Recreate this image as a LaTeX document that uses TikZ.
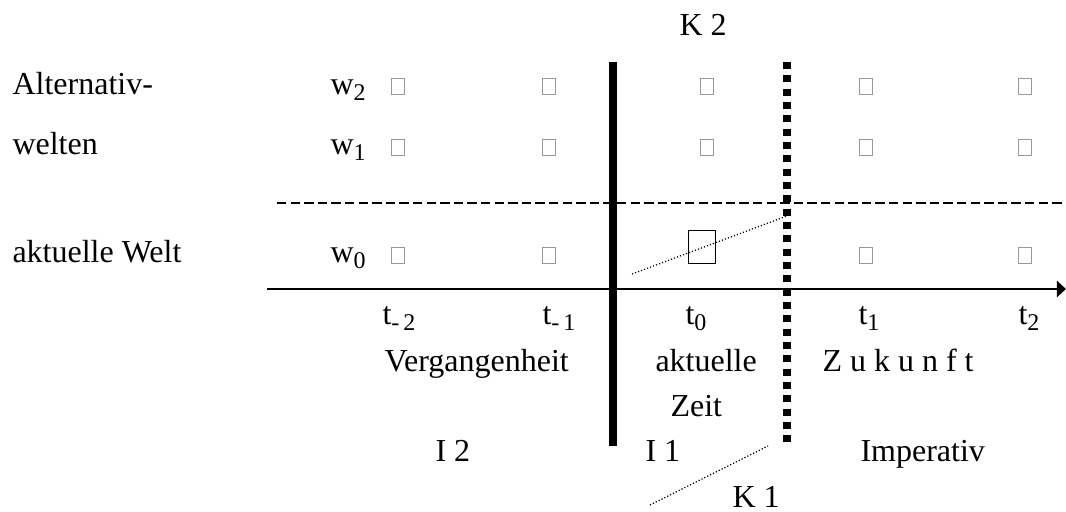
\documentclass[tikz,border=0pt]{standalone}
\usepackage{fontspec}
\setmainfont{Liberation Serif}
\usetikzlibrary{arrows.meta}
\newcommand{\mysub}[1]{\raisebox{-0.35ex}{\fontsize{9}{9}\selectfont #1}}
\begin{document}
\begin{tikzpicture}[x=0.375pt,y=-0.375pt,
  txt/.style={inner sep=0pt,anchor=base west,font=\fontsize{12}{14}\selectfont},
  cell/.style={draw=black!40,line width=0.35pt,inner sep=0pt,minimum width=4.9pt,minimum height=6pt},
  bigcell/.style={draw=black,line width=0.7pt,inner sep=0pt,minimum width=10.1pt,minimum height=12.4pt},
  thinline/.style={line width=0.45pt,dash pattern=on 0.45pt off 0.75pt},
  bar/.style={line width=2.7pt},
  dotbar/.style={line width=2.7pt,dash pattern=on 2.6pt off 2.4pt},
  sep/.style={line width=0.45pt,dash pattern=on 3.5pt off 1.6pt},
  axis/.style={line width=0.9pt,-{Triangle[length=3.4pt,width=6pt]}}]
\useasboundingbox (0,0) rectangle (1066,512);

% left labels
\node[txt] (alt) at (12,95) {Alternativ-};
\node[txt] (welten) at (12,155) {welten};
\node[txt] (akt) at (12,263) {aktuelle Welt};
\node[txt] (w2) at (330,95) {w\mysub{2}};
\node[txt] (w1) at (330,155) {w\mysub{1}};
\node[txt] (w0) at (330,263) {w\mysub{0}};

% grid cells
\foreach \cx [count=\i] in {398,549,707,866,1025}{
  \node[cell] (c2\i) at (\cx,86) {};
  \node[cell] (c1\i) at (\cx,147) {};
}
\node[cell] (c01) at (398,255) {};
\node[cell] (c02) at (549,255) {};
\node[cell] (c04) at (866,255) {};
\node[cell] (c05) at (1025,255) {};
\node[bigcell] (c03) at (702,247) {};

% separator and axis
\coordinate (sepL) at (277,203);
\coordinate (sepR) at (1066,203);
\draw[sep] (sepL) -- (sepR);
\coordinate (axL) at (267,289);
\coordinate (axR) at (1066,289);
\draw[axis] (axL) -- (axR);

% vertical boundaries
\coordinate (barT) at (613,62);
\coordinate (barB) at (613,446);
\draw[bar] (barT) -- (barB);
\coordinate (dbT) at (787,62);
\coordinate (dbB) at (787,446);
\draw[dotbar] (dbT) -- (dbB);

% dotted thin lines
\coordinate (d1a) at (632,274);
\coordinate (d1b) at (787,216);
\draw[thinline] (d1a) -- (d1b);
\coordinate (d2a) at (650,505);
\coordinate (d2b) at (768,446);
\draw[thinline] (d2a) -- (d2b);

% time labels
\node[txt] (tm2) at (382,325) {t\mysub{-\,2}};
\node[txt] (tm1) at (542,325) {t\mysub{-\,1}};
\node[txt] (t0) at (685,325) {t\mysub{0}};
\node[txt] (t1) at (858,325) {t\mysub{1}};
\node[txt] (t2) at (1018,325) {t\mysub{2}};

\node[txt] (verg) at (384,372) {Vergangenheit};
\node[txt] (aktz) at (655,372) {aktuelle};
\node[txt] (zeit) at (670,417) {Zeit};
\node[txt] (zuk) at (822,372) {Z u k u n f t};

\node[txt] (i2) at (435,462) {I 2};
\node[txt] (i1) at (645,462) {I 1};
\node[txt] (imp) at (860,462) {Imperativ};
\node[txt] (k1) at (732,508) {K 1};
\node[txt] (k2) at (679,36) {K 2};
\end{tikzpicture}
\end{document}
